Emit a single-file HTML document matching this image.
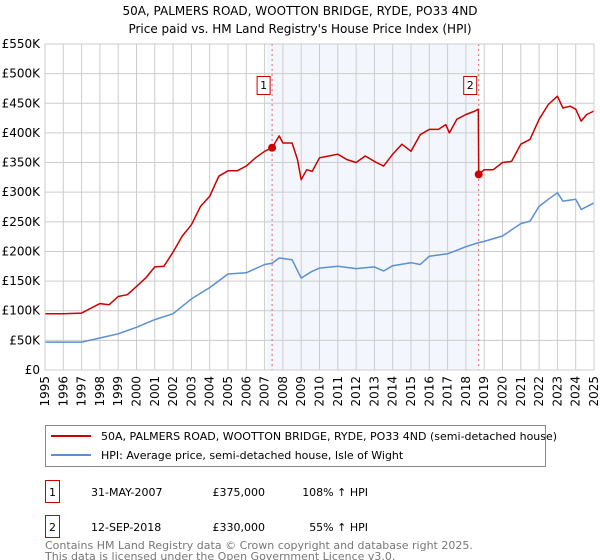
<!DOCTYPE html>
<html><head><meta charset="utf-8"><style>
body{margin:0;background:#fff;font-family:"Liberation Sans","DejaVu Sans",sans-serif;}
#wrap{position:relative;width:600px;height:560px;overflow:hidden}
svg text{font-family:"DejaVu Sans","Liberation Sans",sans-serif}
</style></head><body><div id="wrap">
<svg id="chart" width="600" height="560"></svg>
</div>
<script>
const years=[1995,1996,1997,1998,1998.5,1999,1999.5,2000,2000.5,2001,2001.5,2002,2002.5,2003,2003.5,2004,2004.5,2005,2005.5,2006,2006.5,2007,2007.41,2007.8,2008,2008.5,2008.8,2009,2009.3,2009.6,2010,2010.5,2011,2011.5,2012,2012.5,2013,2013.5,2014,2014.5,2015,2015.5,2016,2016.5,2016.9,2017.1,2017.5,2018,2018.5,2018.68,2018.7,2019,2019.5,2020,2020.5,2021,2021.5,2022,2022.5,2023,2023.3,2023.7,2024,2024.3,2024.6,2025];
const priceVals=[95,95,96,112,110,124,127,141,155,174,175,199,226,245,276,293,327,336,336,344,358,369,375,395,383,383,355,321,338,335,358,361,364,355,350,361,352,344,364,381,369,397,406,406,414,400,423,431,437,440,330,338,338,350,352,381,389,423,448,462,442,445,440,420,431,437];
const hpiYears=[1995,1996,1997,1998,1999,2000,2001,2002,2003,2004,2005,2006,2007,2007.41,2007.8,2008.5,2009,2009.5,2010,2011,2012,2013,2013.5,2014,2015,2015.5,2016,2017,2017.5,2018,2018.7,2019,2020,2021,2021.5,2022,2022.5,2023,2023.3,2024,2024.3,2025];
const hpiVals=[47,47,47,54,61,72,85,95,120,139,162,164,178,180,189,186,155,165,172,175,171,174,167,176,181,178,192,196,202,208,215,217,226,247,251,276,288,299,285,288,271,282];
const yTicks=[0,50,100,150,200,250,300,350,400,450,500,550];
const yTickLabels=["£0","£50K","£100K","£150K","£200K","£250K","£300K","£350K","£400K","£450K","£500K","£550K"];
const sales=[{n:"1",year:2007.41,val:375},{n:"2",year:2018.7,val:330}];

const NS="http://www.w3.org/2000/svg";
const svg=document.getElementById('chart');
const X0=45,X1=594,Y0=370,Y1=44;
const xs=y=>X0+(y-1995)/30*(X1-X0);
const ys=v=>Y0-v/550*(Y0-Y1);
function mk(tag,attrs,parent){const e=document.createElementNS(NS,tag);for(const k in attrs)e.setAttribute(k,attrs[k]);(parent||svg).appendChild(e);return e;}

function txt(x,y,s,size,anchor,fill){const t=mk('text',{x:x,y:y,'font-size':size,'text-anchor':anchor||'start',fill:fill||'#000'});t.textContent=s;return t;}

let t=txt(300,15,"50A, PALMERS ROAD, WOOTTON BRIDGE, RYDE, PO33 4ND",12,'middle');


t=txt(300,33,"Price paid vs. HM Land Registry's House Price Index (HPI)",12,'middle');



let sh=mk('rect',{x:xs(2007.1),y:Y1,width:xs(2018.7)-xs(2007.1),height:Y0-Y1,fill:'#eef3fc',opacity:0.7});



for(let yr=1995;yr<=2025;yr++){
  const g=mk('line',{x1:xs(yr),x2:xs(yr),y1:Y1,y2:Y0,stroke:'#cccccc','stroke-width':1});
  
  
  const l=txt(0,0,String(yr),12,'end');
  l.setAttribute('transform','translate('+(xs(yr)+4)+','+(Y0+6)+') rotate(-90)');
  
  
}
yTicks.forEach((v,i)=>{
  const g=mk('line',{x1:X0,x2:X1,y1:ys(v),y2:ys(v),stroke:'#cccccc','stroke-width':1});
  
  
  const l=txt(X0-5,ys(v)+4,yTickLabels[i],12,'end');
  
  
});

sales.forEach(s=>{
  const d=mk('line',{x1:xs(s.year),x2:xs(s.year),y1:Y1,y2:Y0,stroke:'#e06666','stroke-width':1,'stroke-dasharray':'2,3'});
  
  
  const b=mk('rect',{x:xs(s.year)-15,y:76.5,width:13,height:18,fill:'#fff',stroke:'#cc0000'});
  
  
  const bt=txt(xs(s.year)-8.5,89,s.n,11,'middle');
  
  
});

function path(xa,va,color,name){
  let d='';xa.forEach((y,i)=>{d+=(i?'L':'M')+xs(y).toFixed(1)+','+ys(va[i]).toFixed(1);});
  const p=mk('path',{d:d,fill:'none',stroke:color,'stroke-width':1.5,'stroke-linejoin':'round'});
  
  
}
path(hpiYears,hpiVals,'#5b8fd4','hpi-line');
path(years,priceVals,'#cc0000','price-paid-line');
sales.forEach(s=>{
  const c=mk('circle',{cx:xs(s.year),cy:ys(s.val),r:4,fill:'#cc0000'});
  
  
});
const bd=mk('rect',{x:X0,y:Y1,width:X1-X0,height:Y0-Y1,fill:'none',stroke:'#cccccc'});



const lg=mk('rect',{x:45.5,y:425.5,width:500,height:41,fill:'#fff',stroke:'#888'});


let ll=mk('line',{x1:51,x2:91,y1:436,y2:436,stroke:'#cc0000','stroke-width':2});


t=txt(101,440,"50A, PALMERS ROAD, WOOTTON BRIDGE, RYDE, PO33 4ND (semi-detached house)",11);


ll=mk('line',{x1:51,x2:91,y1:455,y2:455,stroke:'#5b8fd4','stroke-width':2});


t=txt(101,459,"HPI: Average price, semi-detached house, Isle of Wight",11);



const rows=[["1","31-MAY-2007","£375,000","108% ↑ HPI",492],["2","12-SEP-2018","£330,000","55% ↑ HPI",527]];
rows.forEach(r=>{
  const b=mk('rect',{x:45.5,y:r[4]-11.5,width:14,height:22,fill:'#fff',stroke:'#cc0000'});
  
  
  let a=txt(52.5,r[4]+4,r[0],11,'middle');
  a=txt(91,r[4]+4,r[1],11);
  a=txt(265,r[4]+4,r[2],11,'end');
  a=txt(368,r[4]+4,r[3],11,'end');
});
t=txt(45,549,"Contains HM Land Registry data © Crown copyright and database right 2025.",11,'start','#777');


t=txt(45,560,"This data is licensed under the Open Government Licence v3.0.",11,'start','#777');


</script></body></html>
